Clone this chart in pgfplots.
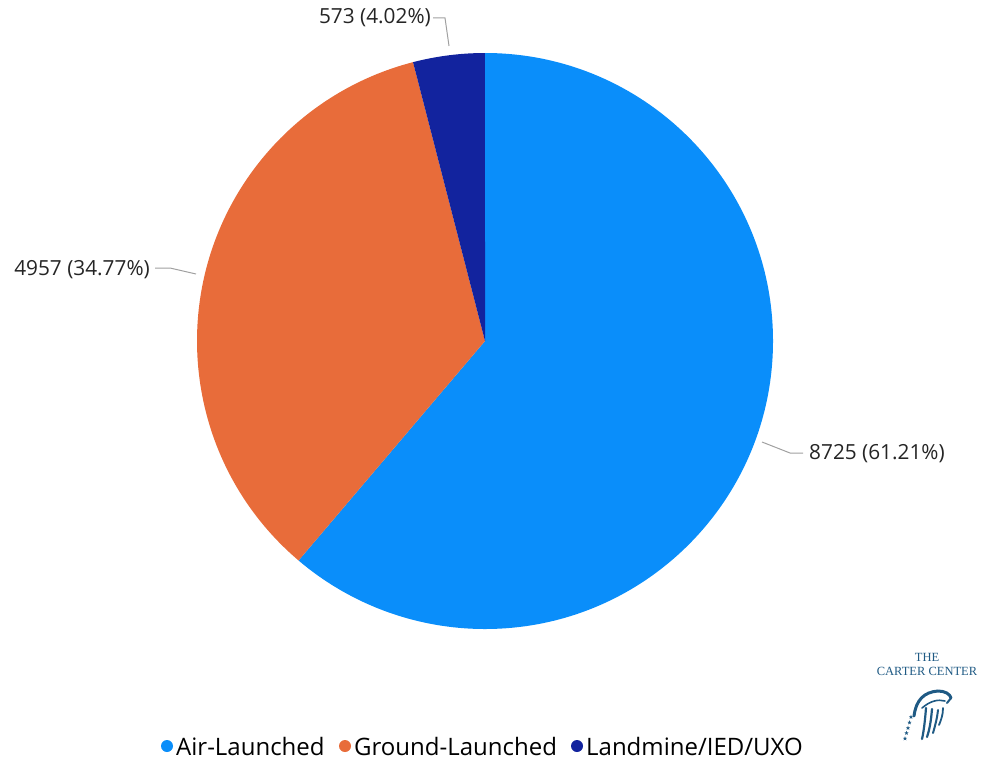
\documentclass[border=0pt]{standalone}
\usepackage{pgfplots}
\usepackage{pgfplotstable}
\pgfplotsset{compat=1.18}
\usetikzlibrary{shapes.geometric}
\usepackage{fontspec}
\setmainfont{Open Sans}
\newfontfamily\logofont{Liberation Serif}
\definecolor{airblue}{HTML}{0A8EFA}
\definecolor{groundorange}{HTML}{E86C3A}
\definecolor{landblue}{HTML}{12239E}
\definecolor{leader}{HTML}{A0A0A0}
\definecolor{txt}{HTML}{252525}
\definecolor{logoblue}{HTML}{1F5A84}

\pgfplotstableread{
category value
Air-Launched 8725
Ground-Launched 4957
Landmine/IED/UXO 573
}\piedata

\begin{document}
\begin{tikzpicture}[logostar/.style={star, star points=5, star point ratio=2.4, fill=logoblue, draw=none, minimum size=4.5pt, inner sep=0pt}]
\pgfplotstablegetelem{0}{value}\of\piedata \let\va\pgfplotsretval
\pgfplotstablegetelem{1}{value}\of\piedata \let\vb\pgfplotsretval
\pgfplotstablegetelem{2}{value}\of\piedata \let\vc\pgfplotsretval
\pgfmathsetmacro\tot{\va+\vb+\vc}
\pgfmathsetmacro\aA{90-360*(\va/\tot)}
\pgfmathsetmacro\aB{\aA-360*(\vb/\tot)}
\pgfmathsetmacro\aC{\aB-360*(\vc/\tot)}
\begin{axis}[
  x=1pt, y=1pt, disabledatascaling,
  xmin=0, xmax=981, ymin=-760, ymax=0,
  hide axis, clip=false,
]
\path (axis cs:0,0) rectangle (axis cs:981,-760);
% pie
\fill[airblue] (axis cs:485,-341) -- ++(90:288) arc[start angle=90, end angle=\aA, radius=288] -- cycle;
\fill[groundorange] (axis cs:485,-341) -- ++(\aA:288) arc[start angle=\aA, end angle=\aB, radius=288] -- cycle;
\fill[landblue] (axis cs:485,-341) -- ++(\aB:288) arc[start angle=\aB, end angle=\aC, radius=288] -- cycle;
% leaders
\draw[leader, line width=1pt] (axis cs:762,-442) -- (axis cs:790,-453) -- (axis cs:803,-453);
\draw[leader, line width=1pt] (axis cs:155,-268) -- (axis cs:170,-268) -- (axis cs:196,-274);
\draw[leader, line width=1pt] (axis cs:433,-18) -- (axis cs:445,-18) -- (axis cs:449,-46);
% labels
\node[anchor=west, text=txt, font=\fontsize{20.8}{24}\selectfont, inner sep=0pt] at (axis cs:809,-454) {8725 (61.21\%)};
\node[anchor=east, text=txt, font=\fontsize{20.8}{24}\selectfont, inner sep=0pt] at (axis cs:150,-270) {4957 (34.77\%)};
\node[anchor=east, text=txt, font=\fontsize{20.8}{24}\selectfont, inner sep=0pt] at (axis cs:431,-18) {573 (4.02\%)};
% legend
\fill[airblue] (axis cs:167,-746) circle[radius=6];
\node[anchor=west, text=black, font=\fontsize{24}{28}\selectfont, inner sep=0pt] at (axis cs:176,-746) {Air-Launched};
\fill[groundorange] (axis cs:345,-746) circle[radius=6];
\node[anchor=west, text=black, font=\fontsize{24}{28}\selectfont, inner sep=0pt] at (axis cs:354,-746) {Ground-Launched};
\fill[landblue] (axis cs:577,-746) circle[radius=6];
\node[anchor=west, text=black, font=\fontsize{24}{28}\selectfont, inner sep=0pt] at (axis cs:586,-746) {Landmine/IED/UXO};
% logo
\node[text=logoblue, font=\logofont\fontsize{12.5}{13}\selectfont, inner sep=0pt] at (axis cs:927,-657) {THE};
\node[text=logoblue, font=\logofont\fontsize{12.5}{13}\selectfont, inner sep=0pt] at (axis cs:927,-671) {CARTER CENTER};
% eagle head
\draw[logoblue, line width=3pt, line cap=round] (axis cs:914,-716) .. controls (axis cs:916,-700) and (axis cs:924,-692) .. (axis cs:938,-691) .. controls (axis cs:945,-691) and (axis cs:950,-694) .. (axis cs:951,-698);
\draw[logoblue, line width=2pt, line cap=round] (axis cs:951,-698) -- (axis cs:947,-703);
\draw[logoblue, line width=1.6pt, line cap=round] (axis cs:922,-708) .. controls (axis cs:930,-701) and (axis cs:938,-699) .. (axis cs:945,-701);
% feathers
\draw[logoblue, line width=2.2pt, line cap=round] (axis cs:926,-708) .. controls (axis cs:925,-720) and (axis cs:924,-730) .. (axis cs:922,-739);
\draw[logoblue, line width=2.2pt, line cap=round] (axis cs:932,-709) .. controls (axis cs:931,-720) and (axis cs:930,-728) .. (axis cs:927,-737);
\draw[logoblue, line width=2pt, line cap=round] (axis cs:938,-710) .. controls (axis cs:937,-719) and (axis cs:935,-726) .. (axis cs:933,-733);
\draw[logoblue, line width=1.8pt, line cap=round] (axis cs:943,-708) .. controls (axis cs:943,-715) and (axis cs:941,-720) .. (axis cs:939,-725);
% stars
\node[logostar] at (axis cs:911,-717) {};
\node[logostar] at (axis cs:909.5,-722.5) {};
\node[logostar] at (axis cs:908,-728) {};
\node[logostar] at (axis cs:906.5,-733) {};
\node[logostar] at (axis cs:905,-738.5) {};
\end{axis}
\end{tikzpicture}
\end{document}
